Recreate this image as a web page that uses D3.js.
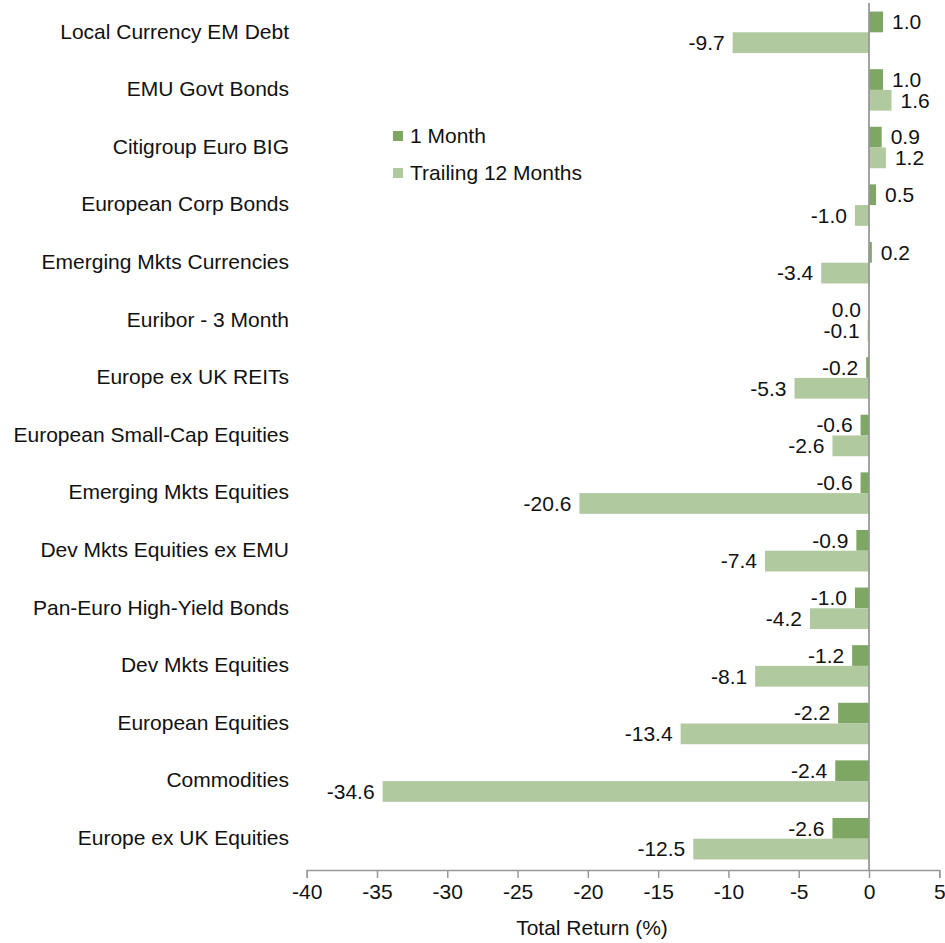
<!DOCTYPE html>
<html><head><meta charset="utf-8">
<script src="https://cdn.jsdelivr.net/npm/d3@7/dist/d3.min.js"></script>
<style>body{margin:0;background:#fff;}svg{display:block;font-family:"Liberation Sans",Arial,sans-serif;}</style>
</head><body>
<script>
const categories = ["Local Currency EM Debt","EMU Govt Bonds","Citigroup Euro BIG","European Corp Bonds","Emerging Mkts Currencies","Euribor - 3 Month","Europe ex UK REITs","European Small-Cap Equities","Emerging Mkts Equities","Dev Mkts Equities ex EMU","Pan-Euro High-Yield Bonds","Dev Mkts Equities","European Equities","Commodities","Europe ex UK Equities"];
const oneMonth = [1.0,1.0,0.9,0.5,0.2,0.0,-0.2,-0.6,-0.6,-0.9,-1.0,-1.2,-2.2,-2.4,-2.6];
const trailing12 = [-9.7,1.6,1.2,-1.0,-3.4,-0.1,-5.3,-2.6,-20.6,-7.4,-4.2,-8.1,-13.4,-34.6,-12.5];
const seriesNames = ["1 Month","Trailing 12 Months"];
const xTicks = [-40,-35,-30,-25,-20,-15,-10,-5,0,5];
const colors = ["#7EA764","#B1C99F"];

const W=945,H=943,FS=21;
const svg=d3.select("body").append("svg").attr("width",W).attr("height",H);
const x=d3.scaleLinear().domain([-40,5]).range([306.7,939.3]);
const y=d3.scaleBand().domain(categories).range([3.5,867.5]).paddingInner(0.28).paddingOuter(0.14);
const sub=d3.scaleBand().domain([0,1]).range([0,y.bandwidth()]);
const series=[oneMonth,trailing12];
const axisY=870;

// bars
series.forEach((vals,si)=>{
  const g=svg.append("g");
  g.selectAll("rect").data(categories).join("rect")
    .attr("x",(c,i)=>x(Math.min(0,vals[i])))
    .attr("width",(c,i)=>Math.abs(x(vals[i])-x(0)))
    .attr("y",c=>y(c)+sub(si))
    .attr("height",sub.bandwidth())
    .attr("fill",colors[si]);
  g.selectAll("text").data(categories).join("text")
    .attr("x",(c,i)=>vals[i]>0?x(vals[i])+9:x(vals[i])-8)
    .attr("y",c=>y(c)+sub(si)+sub.bandwidth()/2)
    .attr("dy","0.35em")
    .attr("text-anchor",(c,i)=>vals[i]>0?"start":"end")
    .attr("font-size",FS).attr("fill","#111")
    .text((c,i)=>vals[i].toFixed(1));
});

// zero line
svg.append("line").attr("x1",x(0)).attr("x2",x(0)).attr("y1",3).attr("y2",axisY)
  .attr("stroke","#999").attr("stroke-width",1.8);

// category labels
svg.append("g").selectAll("text").data(categories).join("text")
  .attr("x",289).attr("y",c=>y(c)+y.bandwidth()/2-1).attr("dy","0.35em")
  .attr("text-anchor","end").attr("font-size",FS).attr("fill","#111").text(c=>c);

// x axis
const ax=svg.append("g").attr("transform",`translate(0,${axisY})`)
  .call(d3.axisBottom(x).tickValues(xTicks).tickSize(8).tickPadding(6).tickFormat(d=>String(d)));
ax.select(".domain").attr("stroke","#999").attr("stroke-width",1.5);
ax.selectAll(".tick line").attr("stroke","#999").attr("stroke-width",1.5);
ax.selectAll(".tick text").attr("font-size",FS).attr("fill","#111").attr("font-family","Liberation Sans, Arial, sans-serif");

svg.append("text").attr("x",592).attr("y",928).attr("dy","0.35em").attr("text-anchor","middle")
  .attr("font-size",FS).attr("fill","#111").text("Total Return (%)");

// legend
const lg=svg.append("g");
seriesNames.forEach((n,i)=>{
  lg.append("rect").attr("x",393).attr("y",131+i*37).attr("width",10).attr("height",10).attr("fill",colors[i]);
  lg.append("text").attr("x",410).attr("y",136+i*37).attr("dy","0.35em").attr("font-size",FS).attr("fill","#111").text(n);
});
</script>
</body></html>
